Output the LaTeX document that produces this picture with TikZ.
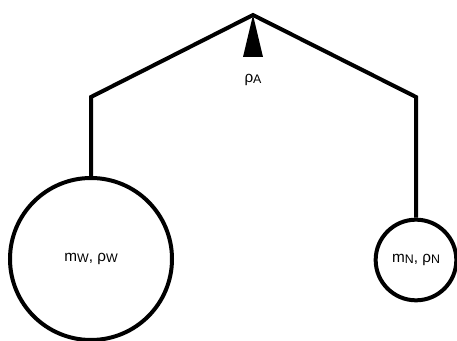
\documentclass[tikz,border=0pt]{standalone}
\usepackage{fontspec}
\setmainfont{Liberation Sans}
\newcommand{\subtxt}[1]{\raisebox{-1pt}{\fontsize{9.3pt}{10pt}\selectfont #1}}
\tikzset{
	mass/.style={draw,circle,line width=3pt,inner sep=0pt,font=\fontsize{11.5pt}{13pt}\selectfont},
	beam/.style={line width=3pt,line join=miter}
}
\begin{document}
\begin{tikzpicture}[x=.75pt,y=-.75pt]
	\useasboundingbox (0,0) rectangle (457,341);
	%%pivot and elbows
	\coordinate (pivot) at (253,15);
	\coordinate (elbowW) at (91,97);
	\coordinate (elbowN) at (416,97);
	\coordinate (baseL) at (243,57);
	\coordinate (baseR) at (263,57);
	%%masses
	\node[mass,minimum size=121.5pt] (massW) at (91,259) {m\subtxt{W}, ρ\subtxt{W}};
	\node[mass,minimum size=60.5pt] (massN) at (416,260) {m\subtxt{N}, ρ\subtxt{N}};
	\node[font=\fontsize{11.5pt}{13pt}\selectfont] (rhoA) at (253,80) {ρ\subtxt{A}};
	%%beam
	\fill (pivot)--(baseL)--(baseR)--cycle;
	\draw[beam] (massW.north)--(elbowW)--(pivot)--(elbowN)--(massN.north);
\end{tikzpicture}
\end{document}
